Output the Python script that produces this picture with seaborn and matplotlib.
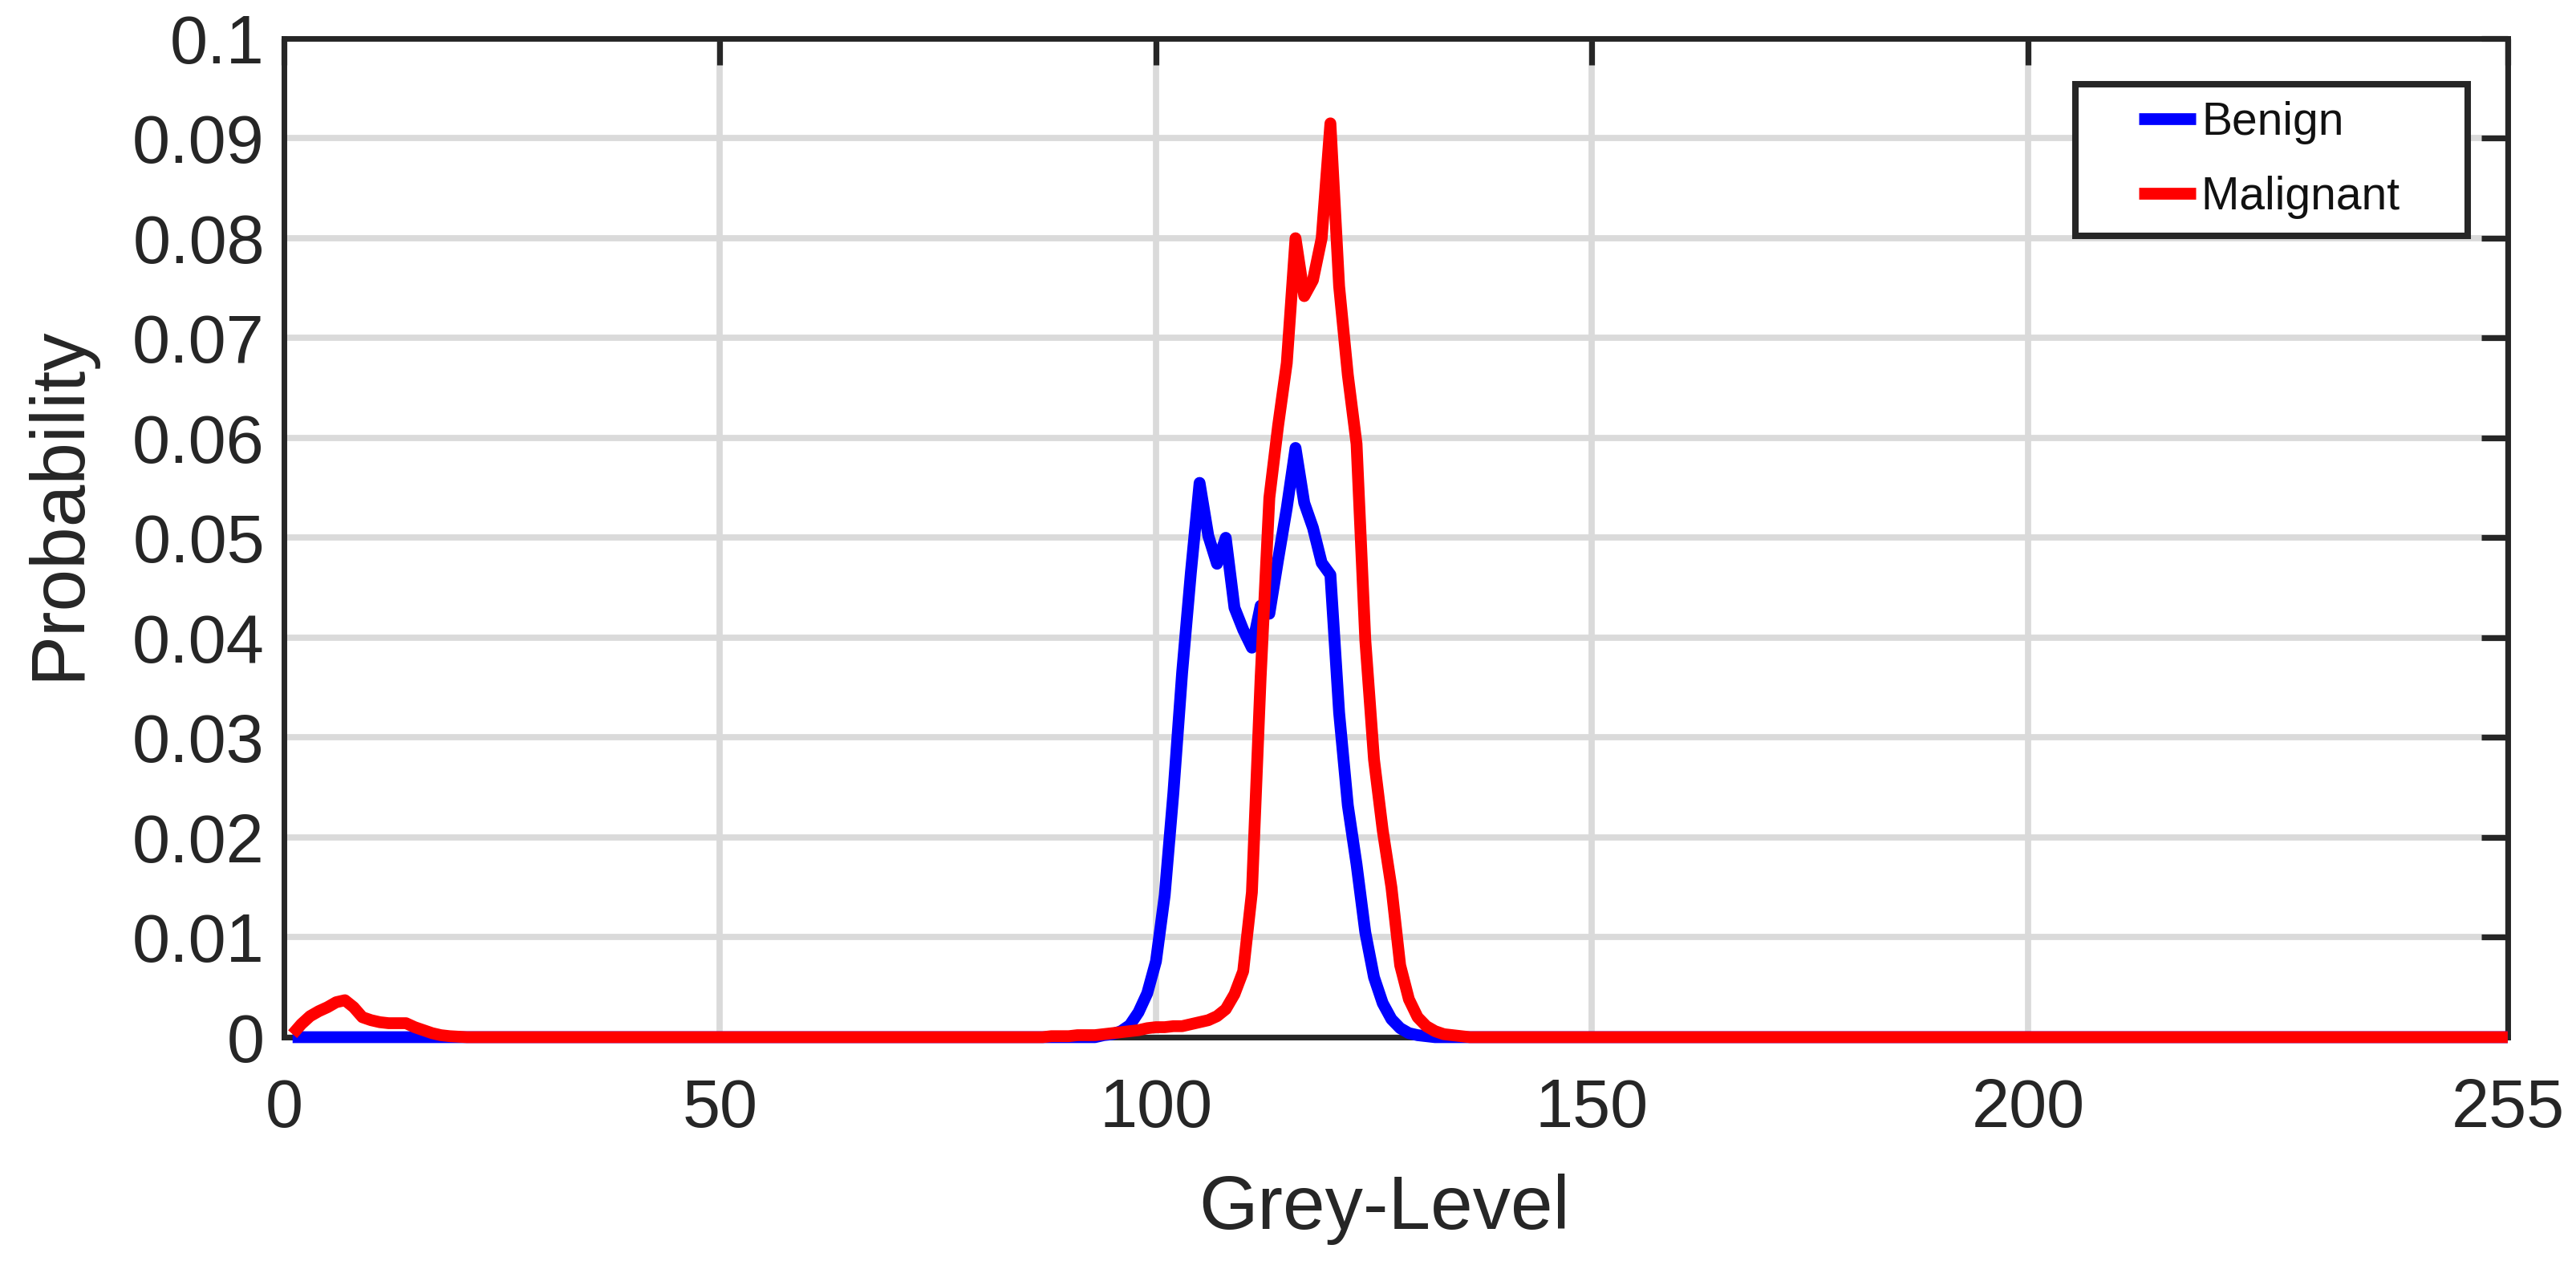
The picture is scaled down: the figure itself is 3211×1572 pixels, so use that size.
import numpy as np
import pandas as pd
import matplotlib
matplotlib.use("Agg")
import matplotlib.pyplot as plt
import seaborn as sns
from matplotlib.lines import Line2D
from matplotlib.legend_handler import HandlerLine2D

# ---------------- data ----------------
grey_levels = list(range(1, 256))          # grey levels plotted

# Benign: non-zero part, grey levels 94..131 (zero elsewhere)
benign_start = 94
benign_values = [0.0002, 0.0003, 0.0006, 0.0012, 0.0025, 0.0044, 0.0076,
                 0.0142, 0.0245, 0.0365, 0.0465, 0.0555, 0.0502, 0.0474,
                 0.0500, 0.0430, 0.0408, 0.0390, 0.0432, 0.0424, 0.0478,
                 0.0530, 0.0590, 0.0535, 0.0510, 0.0475, 0.0463, 0.0325,
                 0.0232, 0.0173, 0.0105, 0.0060, 0.0034, 0.0018, 0.0009,
                 0.0004, 0.0002, 0.0001]

# Malignant: low bump at grey levels 1..20
malignant_low_start = 1
malignant_low_values = [0.0003, 0.0013, 0.0021, 0.0026, 0.0030, 0.0035, 0.0037,
                        0.0030, 0.0020, 0.0017, 0.0015, 0.0014, 0.0014, 0.0014,
                        0.0010, 0.0007, 0.0004, 0.0002, 0.0001, 0.00005]

# Malignant: main peak at grey levels 88..135
malignant_high_start = 88
malignant_high_values = [0.0001, 0.0001, 0.0001, 0.0002, 0.0002, 0.0002, 0.0003,
                         0.0004, 0.0005, 0.0006, 0.0007, 0.0009, 0.0010, 0.0010,
                         0.0011, 0.0011, 0.0013, 0.0015, 0.0017, 0.0021, 0.0028,
                         0.0043, 0.0066, 0.0145, 0.0360, 0.0540, 0.0612, 0.0675,
                         0.0800, 0.0742, 0.0758, 0.0800, 0.0915, 0.0752, 0.0663,
                         0.0594, 0.0398, 0.0278, 0.0207, 0.0150, 0.0072, 0.0038,
                         0.0020, 0.0011, 0.0006, 0.0003, 0.0002, 0.0001]

series_names = ["Benign", "Malignant"]
series_colors = {"Benign": "#0000ff", "Malignant": "#ff0000"}

x_ticks = [0, 50, 100, 150, 200, 255]
y_ticks = [0, 0.01, 0.02, 0.03, 0.04, 0.05, 0.06, 0.07, 0.08, 0.09, 0.1]
y_tick_labels = ["0", "0.01", "0.02", "0.03", "0.04", "0.05",
                 "0.06", "0.07", "0.08", "0.09", "0.1"]

# ---------------- assemble full histograms ----------------
levels = np.array(grey_levels)
benign = np.zeros(len(levels))
malignant = np.zeros(len(levels))
benign[benign_start - 1: benign_start - 1 + len(benign_values)] = benign_values
malignant[malignant_low_start - 1: malignant_low_start - 1 + len(malignant_low_values)] = malignant_low_values
malignant[malignant_high_start - 1: malignant_high_start - 1 + len(malignant_high_values)] = malignant_high_values

df = pd.concat([
    pd.DataFrame({"Grey-Level": levels, "Probability": benign, "Class": "Benign"}),
    pd.DataFrame({"Grey-Level": levels, "Probability": malignant, "Class": "Malignant"}),
], ignore_index=True)

# ---------------- style ----------------
sns.set_theme(style="white")
plt.rcParams["font.family"] = ["Liberation Sans", "DejaVu Sans"]
TXT = "#262626"

fig = plt.figure(figsize=(16.055, 7.86), dpi=200)
ax = fig.add_axes([0.1102, 0.1775, 0.8633, 0.792])

sns.lineplot(data=df, x="Grey-Level", y="Probability", hue="Class",
             hue_order=series_names, palette=series_colors, linewidth=5.3,
             estimator=None, sort=False, legend=False, ax=ax)
for ln in ax.lines:
    ln.set_clip_on(False)
    ln.set_solid_capstyle("butt")
    ln.set_solid_joinstyle("round")
    ln.set_zorder(3)

ax.set_xlim(0, 255)
ax.set_ylim(0, 0.1)
ax.set_xticks(x_ticks)
ax.set_yticks(y_ticks)
ax.set_yticklabels(y_tick_labels)

ax.grid(True, color="#dadada", linewidth=2.8)
ax.set_axisbelow(True)
for sp in ax.spines.values():
    sp.set_visible(True)
    sp.set_linewidth(2.5)
    sp.set_color(TXT)

ax.tick_params(direction="in", length=12, width=2.6, color=TXT,
               top=True, right=True, labelsize=30.5, labelcolor=TXT)
ax.tick_params(axis="x", pad=18)
ax.tick_params(axis="y", pad=8.6)

ax.set_xlabel("Grey-Level", fontsize=34, color=TXT)
ax.set_ylabel("Probability", fontsize=34, color=TXT)
ax.xaxis.set_label_coords(0.4948, -0.1365)
ax.yaxis.set_label_coords(-0.0851, 0.535)


class OffsetLineHandler(HandlerLine2D):
    def __init__(self, seg=1.25, **kw):
        super().__init__(**kw)
        self.seg = seg

    def create_artists(self, legend, orig_handle, xdescent, ydescent,
                       width, height, fontsize, trans):
        arts = super().create_artists(legend, orig_handle, xdescent, ydescent,
                                      width, height, fontsize, trans)
        x1 = -xdescent + width
        yc = (height - ydescent) / 2
        arts[0].set_data([x1 - self.seg * fontsize, x1], [yc, yc])
        arts[0].set_solid_capstyle("butt")
        return arts


handles = ax.lines[:2]
leg = ax.legend(handles, ["Benign", "Malignant    "], loc="upper right",
                bbox_to_anchor=(0.982, 0.954), borderaxespad=0,
                borderpad=0.37, labelspacing=0.68, handlelength=2.28,
                handletextpad=0.12, fontsize=20.5, frameon=True,
                fancybox=False, edgecolor=TXT, framealpha=1,
                handler_map={Line2D: OffsetLineHandler(seg=72 / 57)})
leg.get_frame().set_linewidth(2.9)
for t in leg.get_texts():
    t.set_color("#111111")

fig.savefig("out.png", dpi=200)
